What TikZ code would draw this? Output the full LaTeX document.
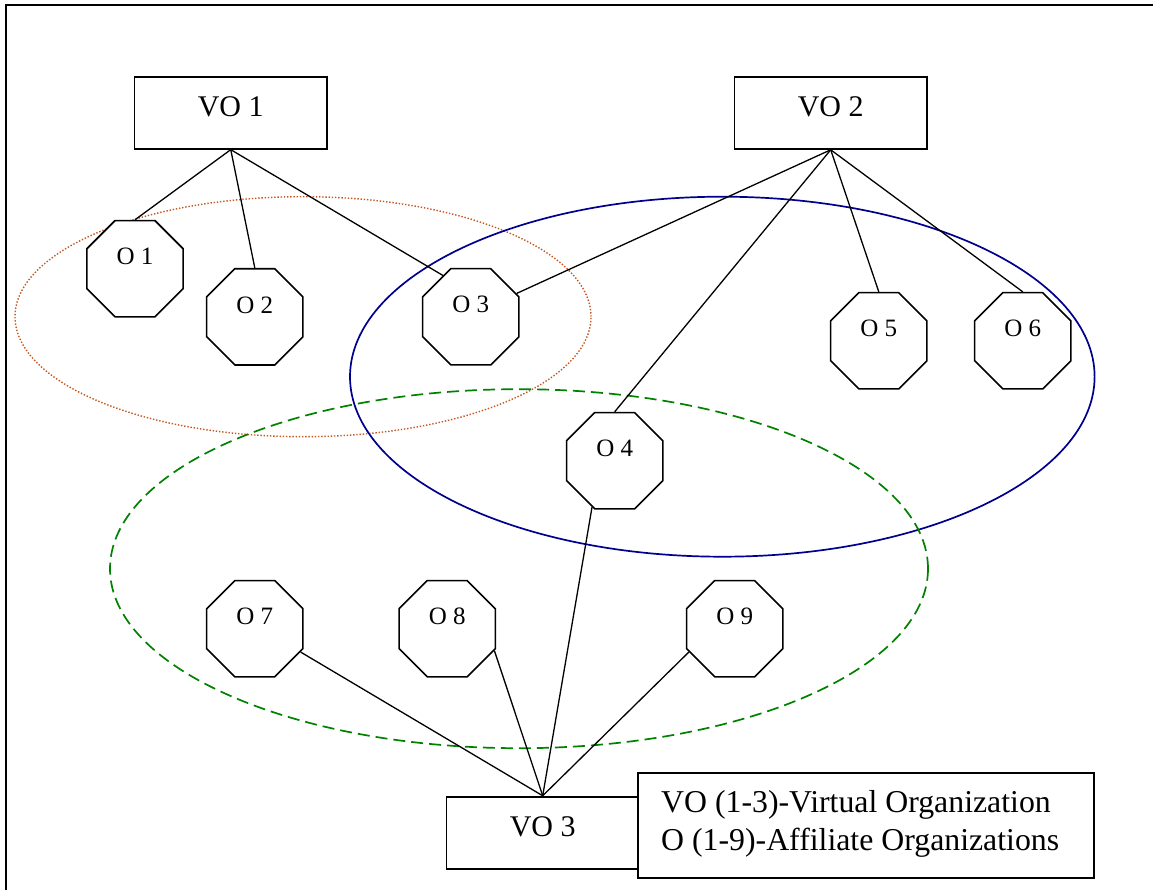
\documentclass[tikz,border=0pt]{standalone}
\usepackage{fontspec}
\setmainfont{Liberation Serif}
\usetikzlibrary{shapes.geometric}

\definecolor{groupA}{RGB}{196,86,32}
\definecolor{groupB}{RGB}{0,0,140}
\definecolor{groupC}{RGB}{0,130,0}

\tikzset{
  vobox/.style={draw, line width=1.9pt, fill=white, rectangle,
    minimum width=192.5pt, minimum height=72pt, inner sep=0pt},
  votext/.style={font=\fontsize{30}{36}\selectfont, yshift=6pt},
  org/.style={draw, line width=1.6pt, fill=white, regular polygon,
    regular polygon sides=8, minimum size=104.2pt, inner sep=0pt},
  orgtext/.style={font=\fontsize{25}{30}\selectfont, yshift=12pt},
  link/.style={draw, line width=1.3pt},
  ringA/.style={draw=groupA, line width=1.4pt, dash pattern=on 1.4pt off 1.8pt},
  ringB/.style={draw=groupB, line width=1.7pt},
  ringC/.style={draw=groupC, line width=1.7pt, dash pattern=on 12pt off 6pt},
  legendtext/.style={font=\fontsize{31.8}{37.7}\selectfont, anchor=base west, inner sep=0pt}
}

\begin{document}
\begin{tikzpicture}[x=1pt,y=-1pt]
\useasboundingbox (0,0) rectangle (1153,890);

% outer frame
\draw[line width=2.2pt] (5.7,890) -- (5.7,5) -- (1153,5);

% groupings of affiliate organizations
\draw[ringA] (303,316.7) ellipse [x radius=288pt, y radius=120pt];
\draw[ringB] (722.3,376.7) ellipse [x radius=372.3pt, y radius=180pt];
\draw[ringC] (519,568.7) ellipse [x radius=409pt, y radius=179.5pt];

% virtual organizations
\node[vobox, label={[votext]center:VO 1}] (VO1) at (230.75,112.7) {};
\node[vobox, label={[votext]center:VO 2}] (VO2) at (830.7,112.85) {};
\node[vobox, label={[votext]center:VO 3}] (VO3) at (542.7,832.7) {};

% affiliate organizations
\node[org, label={[orgtext]center:O 1}] (O1) at (135,268.7) {};
\node[org, label={[orgtext]center:O 2}] (O2) at (254.8,316.85) {};
\node[org, label={[orgtext]center:O 3}] (O3) at (470.8,316.8) {};
\node[org, label={[orgtext]center:O 4}] (O4) at (614.7,460.7) {};
\node[org, label={[orgtext]center:O 5}] (O5) at (878.8,340.8) {};
\node[org, label={[orgtext]center:O 6}] (O6) at (1022.8,340.8) {};
\node[org, label={[orgtext]center:O 7}] (O7) at (254.8,628.7) {};
\node[org, label={[orgtext]center:O 8}] (O8) at (447.2,628.7) {};
\node[org, label={[orgtext]center:O 9}] (O9) at (734.7,628.7) {};

% memberships
\path[link] (VO1.south) -- (O1.north);
\path[link] (VO1.south) -- (O2.north);
\path[link] (VO1.south) -- (O3.124);
\path[link] (VO2.south) -- (O3.27);
\path[link] (VO2.south) -- (O4.north);
\path[link] (VO2.south) -- (O5.north);
\path[link] (VO2.south) -- (O6.north);
\path[link] (VO3.north) -- (O4.-116);
\path[link] (VO3.north) -- (O7.-27);
\path[link] (VO3.north) -- (O8.-25);
\path[link] (VO3.north) -- (O9.-153.5);

% legend
\node[draw, line width=1.9pt, fill=white, rectangle, minimum width=456pt,
  minimum height=104.7pt, inner sep=0pt] (legend) at (866.3,825.65) {};
\node[legendtext] (legendVO) at (661,812.3) {VO (1-3)-Virtual Organization};
\node[legendtext] (legendO) at (661,850) {O (1-9)-Affiliate Organizations};
\end{tikzpicture}
\end{document}
